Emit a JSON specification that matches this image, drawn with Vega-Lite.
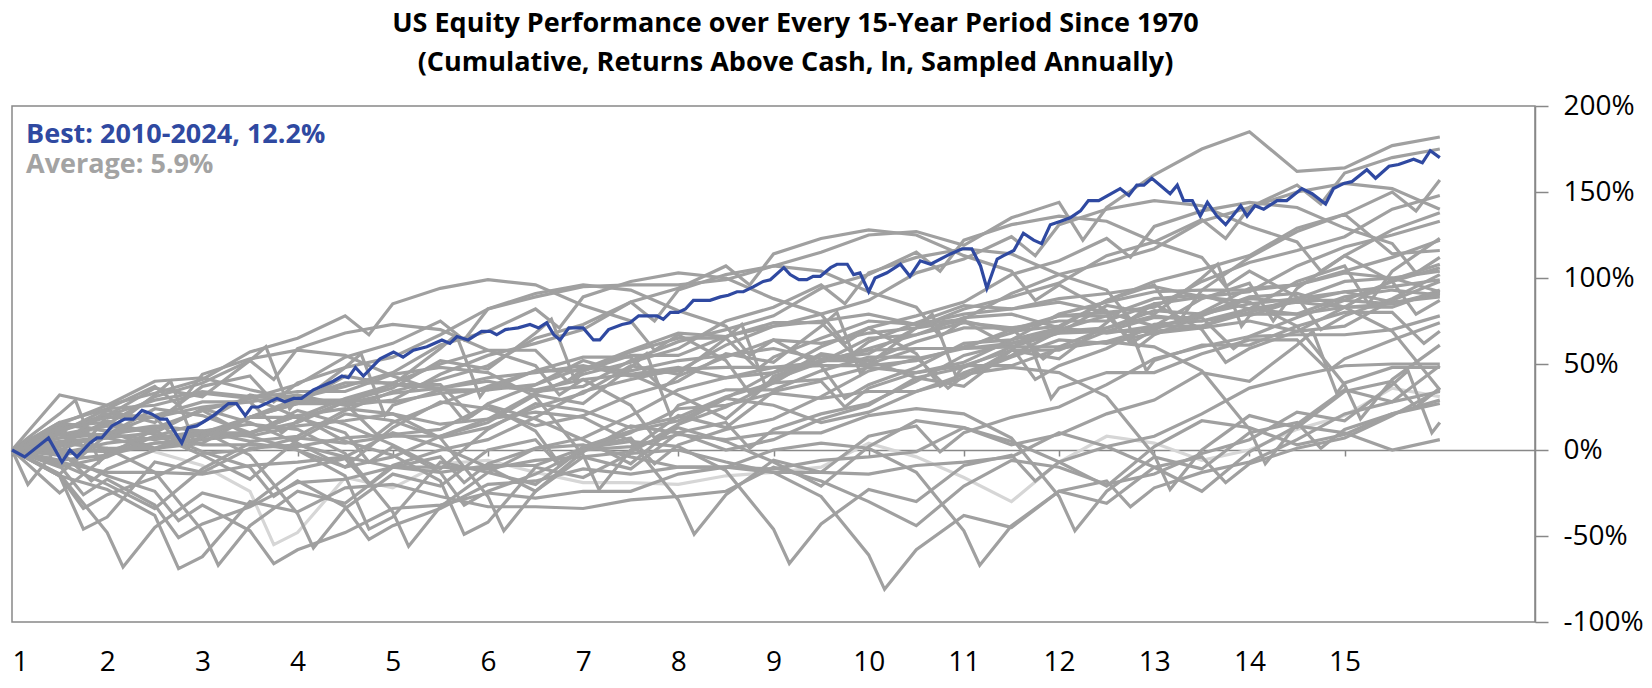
{
  "$schema": "https://vega.github.io/schema/vega-lite/v6.json",
  "width": 1523,
  "height": 516,
  "autosize": {"type": "none"},
  "padding": {"left": 12, "top": 106, "right": 117, "bottom": 66},
  "background": "white",
  "config": {"view": {"stroke": "#888888", "strokeWidth": 1.5}, "font": "Open Sans"},
  "title": {
    "text": ["US Equity Performance over Every 15-Year Period Since 1970", "(Cumulative, Returns Above Cash, ln, Sampled Annually)"],
    "font": "Open Sans", "fontSize": 27, "fontWeight": "bold", "color": "#000000",
    "anchor": "middle", "frame": "group", "dx": 22, "offset": 15, "lineHeight": 39
  },
  "datasets": {
    "periods": [
      {"m":0,"s70":0,"s71":0,"s72":0,"s73":0,"s74":0,"s75":0,"s76":0,"s77":0,"s78":0,"s79":0,"s80":0,"s81":0,"s82":0,"s83":0,"s84":0,"s85":0,"s86":0,"s87":0,"s88":0,"s89":0,"s90":0,"s91":0,"s92":0,"s93":0,"s94":0,"s95":0,"s96":0,"s97":0,"s98":0,"s99":0,"s00":0,"s01":0,"s02":0,"s03":0,"s04":0,"s05":0,"s06":0,"s07":0,"s08":0,"s09":0},
      {"m":6,"s70":-25,"s71":7,"s72":4,"s73":-15,"s74":-15,"s75":32,"s76":14,"s77":-7,"s78":0,"s79":5,"s80":3,"s81":-8,"s82":-14,"s83":15,"s84":-10,"s85":12,"s86":16,"s87":21,"s88":9,"s89":11,"s90":0,"s91":11,"s92":-2,"s93":3,"s94":-6,"s95":15,"s96":7,"s97":16,"s98":13,"s99":9,"s00":-3,"s01":-9,"s02":-15,"s03":10,"s04":2,"s05":-3,"s06":0,"s07":4,"s08":-14,"s09":3},
      {"m":12,"s70":-3,"s71":9,"s72":14,"s73":-23,"s74":-39,"s75":26,"s76":16,"s77":-13,"s78":-1,"s79":7,"s80":17,"s81":-20,"s82":9,"s83":11,"s84":-4,"s85":20,"s86":11,"s87":-1,"s88":9,"s89":19,"s90":-11,"s91":21,"s92":4,"s93":7,"s94":-3,"s95":26,"s96":15,"s97":24,"s98":20,"s99":14,"s00":-15,"s01":-17,"s02":-26,"s03":24,"s04":9,"s05":1,"s06":10,"s07":1,"s08":-48,"s09":23},
      {"m":18,"s70":4,"s71":13,"s72":-1,"s73":-38,"s74":-7,"s75":40,"s76":9,"s77":-13,"s78":4,"s79":10,"s80":9,"s81":-34,"s82":24,"s83":1,"s84":8,"s85":36,"s86":32,"s87":8,"s88":20,"s89":19,"s90":0,"s91":19,"s92":7,"s93":1,"s94":12,"s95":33,"s96":31,"s97":37,"s98":29,"s99":11,"s00":-24,"s01":-32,"s02":-16,"s03":26,"s04":6,"s05":1,"s06":14,"s07":-13,"s08":-45,"s09":16},
      {"m":24,"s70":6,"s71":23,"s72":-9,"s73":-62,"s74":-13,"s75":42,"s76":3,"s77":-14,"s78":6,"s79":24,"s80":-3,"s81":-11,"s82":20,"s83":7,"s84":16,"s85":31,"s86":10,"s87":8,"s88":28,"s89":8,"s90":10,"s91":25,"s92":11,"s93":4,"s94":23,"s95":41,"s96":39,"s97":44,"s98":34,"s99":-1,"s00":-32,"s01":-43,"s02":-2,"s03":33,"s04":10,"s05":11,"s06":11,"s07":-47,"s08":-25,"s09":37},
      {"m":30,"s70":10,"s71":8,"s72":-24,"s73":-30,"s74":1,"s75":35,"s76":3,"s77":-9,"s78":9,"s79":16,"s80":-17,"s81":4,"s82":10,"s83":19,"s84":32,"s85":52,"s86":19,"s87":19,"s88":28,"s89":19,"s90":8,"s91":28,"s92":5,"s93":19,"s94":30,"s95":57,"s96":52,"s97":53,"s98":31,"s99":-10,"s00":-47,"s01":-33,"s02":0,"s03":30,"s04":10,"s05":15,"s06":-3,"s07":-44,"s08":-32,"s09":43},
      {"m":36,"s70":20,"s71":0,"s72":-48,"s73":-36,"s74":3,"s75":29,"s76":2,"s77":-7,"s78":23,"s79":4,"s80":6,"s81":0,"s82":16,"s83":27,"s84":27,"s85":30,"s86":19,"s87":27,"s88":17,"s89":29,"s90":14,"s91":32,"s92":8,"s93":30,"s94":38,"s95":65,"s96":59,"s97":58,"s98":19,"s99":-18,"s00":-58,"s01":-19,"s02":7,"s03":34,"s04":20,"s05":12,"s06":-37,"s07":-24,"s08":-11,"s09":39},
      {"m":42,"s70":5,"s71":-15,"s72":-16,"s73":-22,"s74":-4,"s75":29,"s76":7,"s77":-4,"s78":15,"s79":-10,"s80":21,"s81":-10,"s82":28,"s83":43,"s84":48,"s85":39,"s86":30,"s87":27,"s88":28,"s89":27,"s90":17,"s91":26,"s92":23,"s93":37,"s94":54,"s95":78,"s96":68,"s97":55,"s98":10,"s99":-33,"s00":-48,"s01":-17,"s02":4,"s03":34,"s04":24,"s05":-2,"s06":-34,"s07":-31,"s08":-5,"s09":48},
      {"m":48,"s70":-3,"s71":-39,"s72":-22,"s73":-20,"s74":-10,"s75":28,"s76":9,"s77":10,"s78":3,"s79":13,"s80":17,"s81":-4,"s82":36,"s83":38,"s84":26,"s85":39,"s86":38,"s87":16,"s88":38,"s89":33,"s90":21,"s91":29,"s92":34,"s93":45,"s94":62,"s95":85,"s96":73,"s97":43,"s98":2,"s99":-44,"s00":-34,"s01":-10,"s02":8,"s03":44,"s04":21,"s05":-36,"s06":-14,"s07":-10,"s08":-9,"s09":54},
      {"m":54,"s70":-18,"s71":-7,"s72":-8,"s73":-27,"s74":-10,"s75":33,"s76":12,"s77":2,"s78":-11,"s79":28,"s80":7,"s81":8,"s82":52,"s83":59,"s84":35,"s85":50,"s86":38,"s87":27,"s88":36,"s89":36,"s90":15,"s91":44,"s92":41,"s93":61,"s94":75,"s95":94,"s96":70,"s97":34,"s98":-13,"s99":-34,"s00":-32,"s01":-13,"s02":8,"s03":48,"s04":7,"s05":-33,"s06":-21,"s07":-4,"s08":0,"s09":67},
      {"m":60,"s70":-42,"s71":-13,"s72":-6,"s73":-33,"s74":-11,"s75":35,"s76":26,"s77":-10,"s78":12,"s79":24,"s80":13,"s81":16,"s82":47,"s83":37,"s84":35,"s85":58,"s86":27,"s87":37,"s88":42,"s89":40,"s90":18,"s91":55,"s92":49,"s93":69,"s94":82,"s95":99,"s96":58,"s97":26,"s98":-24,"s99":-20,"s00":-25,"s01":-9,"s02":18,"s03":45,"s04":-27,"s05":-13,"s06":0,"s07":-8,"s08":6,"s09":82},
      {"m":66,"s70":-10,"s71":1,"s72":-13,"s73":-33,"s74":-6,"s75":38,"s76":18,"s77":-24,"s78":27,"s79":14,"s80":25,"s81":32,"s82":68,"s83":46,"s84":46,"s85":58,"s86":38,"s87":35,"s88":45,"s89":34,"s90":33,"s91":62,"s92":65,"s93":82,"s94":91,"s95":96,"s96":49,"s97":11,"s98":-14,"s99":-18,"s00":-28,"s01":-9,"s02":22,"s03":31,"s04":-24,"s05":-20,"s06":6,"s07":1,"s08":19,"s09":89},
      {"m":72,"s70":-16,"s71":3,"s72":-19,"s73":-34,"s74":-4,"s75":52,"s76":6,"s77":-1,"s78":23,"s79":20,"s80":33,"s81":27,"s82":46,"s83":46,"s84":54,"s85":47,"s86":48,"s87":41,"s88":49,"s89":37,"s90":44,"s91":70,"s92":73,"s93":89,"s94":96,"s95":84,"s96":41,"s97":0,"s98":0,"s99":-11,"s00":-24,"s01":1,"s02":19,"s03":-3,"s04":-4,"s05":1,"s06":2,"s07":7,"s08":34,"s09":95},
      {"m":78,"s70":-2,"s71":-4,"s72":-19,"s73":-29,"s74":-1,"s75":44,"s76":-8,"s77":14,"s78":13,"s79":32,"s80":49,"s81":48,"s82":55,"s83":57,"s84":54,"s85":58,"s86":46,"s87":44,"s88":43,"s89":52,"s90":51,"s91":86,"s92":86,"s93":98,"s94":93,"s95":75,"s96":26,"s97":10,"s98":2,"s99":-14,"s00":-24,"s01":5,"s02":5,"s03":0,"s04":-11,"s05":7,"s06":11,"s07":20,"s08":41,"s09":96},
      {"m":84,"s70":0,"s71":-10,"s72":-20,"s73":-27,"s74":13,"s75":32,"s76":15,"s77":10,"s78":19,"s79":40,"s80":44,"s81":26,"s82":55,"s83":65,"s84":43,"s85":68,"s86":52,"s87":48,"s88":46,"s89":63,"s90":59,"s91":94,"s92":93,"s93":103,"s94":81,"s95":67,"s96":15,"s97":24,"s98":9,"s99":-10,"s00":-14,"s01":2,"s02":-29,"s03":20,"s04":10,"s05":3,"s06":17,"s07":35,"s08":47,"s09":96},
      {"m":90,"s70":-7,"s71":-10,"s72":-15,"s73":-24,"s74":5,"s75":18,"s76":30,"s77":0,"s78":31,"s79":56,"s80":65,"s81":35,"s82":66,"s83":65,"s84":54,"s85":66,"s86":55,"s87":42,"s88":61,"s89":70,"s90":75,"s91":107,"s92":102,"s93":100,"s94":72,"s95":52,"s96":25,"s97":26,"s98":6,"s99":-10,"s00":-10,"s01":-12,"s02":-26,"s03":13,"s04":16,"s05":12,"s06":30,"s07":42,"s08":48,"s09":99},
      {"m":96,"s70":-13,"s71":-11,"s72":-13,"s73":-10,"s74":-7,"s75":41,"s76":26,"s77":6,"s78":39,"s79":51,"s80":43,"s81":35,"s82":74,"s83":54,"s84":64,"s85":72,"s86":59,"s87":45,"s88":72,"s89":78,"s90":83,"s91":114,"s92":107,"s93":88,"s94":64,"s95":41,"s96":39,"s97":33,"s98":10,"s99":0,"s00":-13,"s01":-46,"s02":-6,"s03":34,"s04":12,"s05":18,"s06":45,"s07":48,"s08":48,"s09":107},
      {"m":102,"s70":-13,"s71":-6,"s72":-10,"s73":-18,"s74":-21,"s75":56,"s76":16,"s77":18,"s78":55,"s79":72,"s80":52,"s81":46,"s82":74,"s83":65,"s84":62,"s85":75,"s86":53,"s87":60,"s88":79,"s89":94,"s90":96,"s91":123,"s92":104,"s93":79,"s94":49,"s95":51,"s96":41,"s97":30,"s98":10,"s99":4,"s00":-27,"s01":-43,"s02":-13,"s03":40,"s04":21,"s05":31,"s06":52,"s07":49,"s08":51,"s09":115},
      {"m":108,"s70":-14,"s71":-4,"s72":4,"s73":-30,"s74":2,"s75":52,"s76":22,"s77":26,"s78":50,"s79":50,"s80":52,"s81":54,"s82":63,"s83":75,"s84":68,"s85":79,"s86":56,"s87":71,"s88":87,"s89":102,"s90":103,"s91":128,"s92":92,"s93":71,"s94":38,"s95":65,"s96":48,"s97":34,"s98":20,"s99":1,"s00":-61,"s01":-23,"s02":8,"s03":36,"s04":27,"s05":46,"s06":58,"s07":49,"s08":59,"s09":125},
      {"m":114,"s70":-9,"s71":-1,"s72":-4,"s73":-44,"s74":17,"s75":42,"s76":34,"s77":42,"s78":71,"s79":59,"s80":63,"s81":54,"s82":74,"s83":73,"s84":71,"s85":73,"s86":71,"s87":78,"s88":103,"s89":115,"s90":112,"s91":125,"s92":83,"s93":56,"s94":48,"s95":67,"s96":45,"s97":34,"s98":24,"s99":-13,"s00":-58,"s01":-30,"s02":14,"s03":45,"s04":40,"s05":53,"s06":59,"s07":52,"s08":67,"s09":127},
      {"m":120,"s70":-7,"s71":13,"s72":-16,"s73":-21,"s74":13,"s75":48,"s76":42,"s77":37,"s78":49,"s79":59,"s80":71,"s81":43,"s82":84,"s83":79,"s84":75,"s85":76,"s86":82,"s87":86,"s88":111,"s89":122,"s90":117,"s91":113,"s92":75,"s93":45,"s94":62,"s95":74,"s96":49,"s97":44,"s98":21,"s99":-47,"s00":-38,"s01":-9,"s02":10,"s03":51,"s04":55,"s05":59,"s06":59,"s07":60,"s08":77,"s09":119},
      {"m":126,"s70":-4,"s71":5,"s72":-30,"s73":-6,"s74":3,"s75":60,"s76":58,"s77":58,"s78":58,"s79":70,"s80":71,"s81":54,"s82":82,"s83":82,"s84":69,"s85":91,"s86":89,"s87":102,"s88":124,"s89":131,"s90":114,"s91":104,"s92":60,"s93":55,"s94":64,"s95":71,"s96":49,"s97":48,"s98":7,"s99":-44,"s00":-45,"s01":-3,"s02":19,"s03":64,"s04":62,"s05":60,"s06":62,"s07":68,"s08":79,"s09":135},
      {"m":132,"s70":10,"s71":-7,"s72":-7,"s73":-10,"s74":9,"s75":68,"s76":53,"s77":36,"s78":58,"s79":78,"s80":60,"s81":64,"s82":88,"s83":86,"s84":72,"s85":102,"s86":97,"s87":110,"s88":131,"s89":136,"s90":102,"s91":96,"s92":49,"s93":69,"s94":71,"s95":75,"s96":59,"s97":45,"s98":-27,"s99":-24,"s00":-24,"s01":-7,"s02":25,"s03":79,"s04":68,"s05":60,"s06":70,"s07":78,"s08":71,"s09":144},
      {"m":138,"s70":2,"s71":-21,"s72":8,"s73":-20,"s74":21,"s75":84,"s76":74,"s77":45,"s78":69,"s79":78,"s80":71,"s81":62,"s82":91,"s83":80,"s84":87,"s85":109,"s86":113,"s87":123,"s88":140,"s89":133,"s90":93,"s91":81,"s92":59,"s93":71,"s94":68,"s95":75,"s96":63,"s97":31,"s98":-24,"s99":-31,"s00":-18,"s01":2,"s02":38,"s03":86,"s04":69,"s05":63,"s06":78,"s07":80,"s08":87,"s09":141},
      {"m":144,"s70":-10,"s71":2,"s72":4,"s73":-14,"s74":29,"s75":79,"s76":52,"s77":45,"s78":77,"s79":67,"s80":81,"s81":68,"s82":95,"s83":83,"s84":98,"s85":117,"s86":121,"s87":130,"s88":145,"s89":121,"s90":85,"s91":70,"s92":73,"s93":78,"s94":72,"s95":85,"s96":60,"s97":-3,"s98":-4,"s99":-10,"s00":-22,"s01":8,"s02":53,"s03":92,"s04":69,"s05":71,"s06":88,"s07":72,"s08":96,"s09":160},
      {"m":150,"s70":-24,"s71":17,"s72":-6,"s73":-2,"s74":45,"s75":100,"s76":61,"s77":56,"s78":77,"s79":78,"s80":79,"s81":71,"s82":89,"s83":98,"s84":105,"s85":133,"s86":134,"s87":139,"s88":142,"s89":112,"s90":70,"s91":80,"s92":75,"s93":75,"s94":72,"s95":89,"s96":46,"s97":0,"s98":-11,"s99":-4,"s00":-13,"s01":21,"s02":60,"s03":93,"s04":72,"s05":79,"s06":90,"s07":88,"s08":93,"s09":175},
      {"m":156,"s70":-1,"s71":13,"s72":0,"s73":6,"s74":40,"s75":78,"s76":61,"s77":64,"s78":66,"s79":88,"s80":85,"s81":75,"s82":92,"s83":109,"s84":113,"s85":141,"s86":141,"s87":144,"s88":130,"s89":104,"s90":59,"s91":94,"s92":82,"s93":79,"s94":82,"s95":86,"s96":12,"s97":20,"s98":10,"s99":-8,"s00":-7,"s01":36,"s02":66,"s03":93,"s04":80,"s05":89,"s06":82,"s07":97,"s08":112,"s09":185},
      {"m":162,"s70":14,"s71":3,"s72":12,"s73":22,"s74":61,"s75":87,"s76":72,"s77":64,"s78":77,"s79":86,"s80":88,"s81":69,"s82":107,"s83":116,"s84":129,"s85":154,"s86":150,"s87":141,"s88":121,"s89":89,"s90":69,"s91":96,"s92":79,"s93":79,"s94":86,"s95":72,"s96":15,"s97":13,"s98":16,"s99":1,"s00":6,"s01":43,"s02":67,"s03":96,"s04":88,"s05":91,"s06":98,"s07":94,"s08":127,"s09":162},
      {"m":168,"s70":10,"s71":9,"s72":20,"s73":17,"s74":39,"s75":87,"s76":80,"s77":53,"s78":87,"s79":92,"s80":92,"s81":72,"s82":118,"s83":124,"s84":137,"s85":161,"s86":155,"s87":129,"s88":113,"s89":78,"s90":83,"s91":103,"s92":83,"s93":89,"s94":83,"s95":38,"s96":35,"s97":34,"s98":12,"s99":7,"s00":21,"s01":49,"s02":67,"s03":104,"s04":98,"s05":83,"s06":107,"s07":113,"s08":137,"s09":164},
      {"m":174,"s70":0,"s71":21,"s72":36,"s73":38,"s74":48,"s75":98,"s76":80,"s77":64,"s78":85,"s79":95,"s80":86,"s81":87,"s82":125,"s83":140,"s84":150,"s85":170,"s86":152,"s87":120,"s88":98,"s89":88,"s90":85,"s91":100,"s92":83,"s93":93,"s94":69,"s95":41,"s96":28,"s97":40,"s98":21,"s99":20,"s00":28,"s01":50,"s02":70,"s03":112,"s04":100,"s05":99,"s06":104,"s07":128,"s08":114,"s09":177},
      {"m":180,"s70":6,"s71":29,"s72":31,"s73":16,"s74":48,"s75":106,"s76":69,"s77":74,"s78":91,"s79":99,"s80":89,"s81":98,"s82":133,"s83":148,"s84":157,"s85":175,"s86":140,"s87":112,"s88":87,"s89":102,"s90":92,"s91":104,"s92":93,"s93":90,"s94":35,"s95":61,"s96":49,"s97":36,"s98":27,"s99":35,"s00":34,"s01":50,"s02":78,"s03":122,"s04":92,"s05":108,"s06":123,"s07":138,"s08":116,"s09":182},
      {"m":2,"s09":-20},
      {"m":8,"s87":29},
      {"m":9,"s74":-46,"s98":2,"s01":-26,"s02":-34},
      {"m":10,"s90":-18},
      {"m":11,"s87":-7},
      {"m":14,"s08":-68},
      {"m":20,"s86":40},
      {"m":21,"s73":-69,"s97":26,"s00":-41,"s01":-51},
      {"m":22,"s89":1},
      {"m":23,"s86":4},
      {"m":26,"s07":-67},
      {"m":32,"s85":60},
      {"m":33,"s72":-55,"s96":41,"s99":-27,"s00":-66,"s09":28},
      {"m":34,"s88":10},
      {"m":35,"s85":24},
      {"m":38,"s06":-57},
      {"m":44,"s84":56},
      {"m":45,"s71":-46,"s95":67,"s98":-7,"s99":-52,"s08":-20},
      {"m":46,"s87":9},
      {"m":47,"s84":20},
      {"m":50,"s05":-56},
      {"m":56,"s83":67},
      {"m":57,"s70":-49,"s94":64,"s97":17,"s98":-32,"s07":-19},
      {"m":58,"s86":20},
      {"m":59,"s83":31},
      {"m":62,"s04":-47},
      {"m":68,"s82":76},
      {"m":69,"s93":71,"s96":32,"s97":-8,"s06":-9},
      {"m":70,"s85":40},
      {"m":71,"s82":40},
      {"m":74,"s03":-23},
      {"m":80,"s81":56},
      {"m":81,"s92":75,"s95":58,"s96":7,"s05":-8},
      {"m":82,"s84":36},
      {"m":83,"s81":20},
      {"m":86,"s02":-49},
      {"m":92,"s80":73},
      {"m":93,"s91":96,"s94":55,"s95":33,"s04":1},
      {"m":94,"s83":47},
      {"m":95,"s80":37},
      {"m":98,"s01":-66},
      {"m":104,"s79":80},
      {"m":105,"s90":85,"s93":62,"s94":30,"s03":25},
      {"m":106,"s82":56},
      {"m":107,"s79":44},
      {"m":110,"s00":-81},
      {"m":116,"s78":79},
      {"m":117,"s89":104,"s92":66,"s93":37,"s02":-1},
      {"m":118,"s81":36},
      {"m":119,"s78":43},
      {"m":122,"s99":-67},
      {"m":128,"s77":66},
      {"m":129,"s88":113,"s91":87,"s92":41,"s01":-18},
      {"m":130,"s80":53},
      {"m":131,"s77":30},
      {"m":134,"s98":-47},
      {"m":135,"s09":122},
      {"m":140,"s76":82},
      {"m":141,"s87":112,"s90":76,"s91":62,"s00":-33},
      {"m":142,"s79":60},
      {"m":143,"s76":46},
      {"m":146,"s97":-23},
      {"m":147,"s08":74},
      {"m":152,"s75":108},
      {"m":153,"s86":123,"s89":95,"s90":51,"s99":-19},
      {"m":154,"s78":59},
      {"m":155,"s75":72},
      {"m":158,"s96":-8},
      {"m":159,"s07":75},
      {"m":164,"s74":69},
      {"m":165,"s85":143,"s88":104,"s89":70,"s98":1},
      {"m":166,"s77":46},
      {"m":167,"s74":33},
      {"m":170,"s95":18},
      {"m":171,"s06":85},
      {"m":176,"s73":46},
      {"m":177,"s84":139,"s87":103,"s88":79,"s97":25},
      {"m":178,"s76":62},
      {"m":179,"s73":10}
    ],
    "best": [
      {"m":0,"v":0},{"m":1.6,"v":-4},{"m":4.6,"v":7},{"m":6.3,"v":-7},{"m":7.3,"v":0},{"m":8.2,"v":-4},{"m":9.8,"v":4},{"m":10.7,"v":7},{"m":11.3,"v":7},{"m":12.6,"v":14},
      {"m":14.2,"v":18},{"m":15.3,"v":18},{"m":16.4,"v":23},{"m":17.6,"v":21},{"m":18.7,"v":18},{"m":19.5,"v":18},{"m":21.4,"v":4},{"m":22.2,"v":13},{"m":23.3,"v":14},{"m":25.4,"v":20},
      {"m":27.3,"v":27},{"m":28.3,"v":27},{"m":29.4,"v":20},{"m":30.2,"v":25},{"m":31.1,"v":25},{"m":33.4,"v":30},{"m":34.4,"v":28},{"m":35.5,"v":30},{"m":36.5,"v":30},{"m":38,"v":35},
      {"m":40.5,"v":40},{"m":41.6,"v":43},{"m":42.4,"v":42},{"m":43.3,"v":48},{"m":44.3,"v":43},{"m":46.4,"v":53},{"m":48.1,"v":57},{"m":49.3,"v":54},{"m":50.6,"v":58},{"m":52.3,"v":60},
      {"m":54.2,"v":64},{"m":55.2,"v":62},{"m":56.1,"v":66},{"m":57.5,"v":64},{"m":59.2,"v":69},{"m":60.3,"v":69},{"m":61.1,"v":67},{"m":62.2,"v":70},{"m":63.8,"v":71},{"m":65.3,"v":73},
      {"m":66.4,"v":71},{"m":67.4,"v":74},{"m":68.3,"v":67},{"m":69.1,"v":64},{"m":70.2,"v":71},{"m":72,"v":71},{"m":73.3,"v":64},{"m":74.1,"v":64},{"m":75.2,"v":70},{"m":76.9,"v":73},
      {"m":77.9,"v":74},{"m":79,"v":78},{"m":81.3,"v":78},{"m":82.1,"v":76},{"m":83,"v":80},{"m":84,"v":80},{"m":84.9,"v":82},{"m":85.9,"v":87},{"m":88,"v":87},{"m":89.3,"v":89},
      {"m":90.3,"v":90},{"m":91.4,"v":92},{"m":92.2,"v":92},{"m":93.5,"v":95},{"m":94.7,"v":98},{"m":95.6,"v":99},{"m":97.3,"v":106},{"m":98.1,"v":102},{"m":99.2,"v":99},{"m":100.2,"v":99},
      {"m":101,"v":101},{"m":101.9,"v":101},{"m":103.2,"v":106},{"m":104,"v":108},{"m":105.3,"v":108},{"m":106.1,"v":102},{"m":106.9,"v":103},{"m":108,"v":92},{"m":108.8,"v":100},{"m":110.3,"v":103},
      {"m":112,"v":108},{"m":113.2,"v":101},{"m":114.5,"v":110},{"m":115.8,"v":108},{"m":118.3,"v":114},{"m":119.8,"v":117},{"m":121,"v":117},{"m":122.1,"v":107},{"m":122.9,"v":94},{"m":124.2,"v":111},
      {"m":125,"v":113},{"m":126.3,"v":116},{"m":127.5,"v":126},{"m":128.8,"v":122},{"m":129.8,"v":120},{"m":130.9,"v":131},{"m":132.2,"v":133},{"m":133.4,"v":135},{"m":134.7,"v":139},{"m":135.7,"v":145},
      {"m":137,"v":145},{"m":139.7,"v":152},{"m":140.8,"v":148},{"m":141.8,"v":154},{"m":142.7,"v":154},{"m":143.7,"v":158},{"m":146,"v":149},{"m":146.9,"v":154},{"m":147.7,"v":145},{"m":148.8,"v":145},
      {"m":149.8,"v":136},{"m":150.7,"v":144},{"m":151.9,"v":136},{"m":153,"v":131},{"m":154.9,"v":142},{"m":155.7,"v":136},{"m":156.7,"v":142},{"m":157.8,"v":140},{"m":159.5,"v":145},{"m":160.7,"v":145},
      {"m":162.6,"v":152},{"m":163.9,"v":149},{"m":165.6,"v":143},{"m":166.6,"v":152},{"m":167.9,"v":155},{"m":168.9,"v":156},{"m":170.8,"v":163},{"m":171.9,"v":158},{"m":173.6,"v":165},{"m":174.8,"v":166},
      {"m":176.7,"v":169},{"m":177.8,"v":167},{"m":178.8,"v":174},{"m":180,"v":170}
    ],
    "notes": [
      {"label": "Best: 2010-2024, 12.2%"},
      {"label": "Average: 5.9%"}
    ]
  },
  "resolve": {"axis": {"x": "independent", "y": "independent"}},
  "layer": [
    {
      "data": {"name": "periods"},
      "transform": [
        {"fold": ["s70","s71","s72","s73","s74","s75","s76","s77","s78","s79","s80","s81","s82","s83","s84","s85","s86","s87","s88","s89","s90","s91","s92","s93","s94","s95","s96","s97","s98","s99","s00","s01","s02","s03","s04","s05","s06","s07","s08","s09"], "as": ["period", "v"]},
        {"filter": "datum.period === 's72' && isValid(datum.v)"}
      ],
      "mark": {"type": "line", "color": "#d6d6d6", "strokeWidth": 3.2},
      "encoding": {
        "x": {"field": "m", "type": "quantitative", "scale": {"domain": [0, 192], "nice": false, "zero": false},
          "axis": {"orient": "bottom", "values": [0,12,24,36,48,60,72,84,96,108,120,132,144,156,168], "labelExpr": "'' + (datum.value / 12 + 1)", "domain": false, "ticks": false, "grid": false, "title": null, "labelFontSize": 28, "labelFont": "Open Sans", "labelColor": "#000000", "labelPadding": 40, "labelBaseline": "middle"}},
        "y": {"field": "v", "type": "quantitative", "scale": {"domain": [-100, 200], "nice": false, "zero": false},
          "axis": {"orient": "right", "offset": 0, "values": [-100,-50,0,50,100,150,200], "labelExpr": "datum.value + '%'", "domain": true, "domainColor": "#888888", "domainWidth": 1.5, "ticks": true, "tickSize": 13, "tickColor": "#888888", "tickWidth": 1.5, "grid": false, "title": null, "labelFontSize": 28, "labelFont": "Open Sans", "labelColor": "#000000", "labelPadding": 15, "labelBound": false, "labelFlush": false, "labelAlign": "left", "labelBaseline": "middle"}},
        "detail": {"field": "period"}
      }
    },
    {
      "data": {"name": "periods"},
      "transform": [
        {"fold": ["s70","s71","s72","s73","s74","s75","s76","s77","s78","s79","s80","s81","s82","s83","s84","s85","s86","s87","s88","s89","s90","s91","s92","s93","s94","s95","s96","s97","s98","s99","s00","s01","s02","s03","s04","s05","s06","s07","s08","s09"], "as": ["period", "v"]},
        {"filter": "datum.period !== 's72' && isValid(datum.v)"}
      ],
      "mark": {"type": "line", "color": "#a0a0a0", "strokeWidth": 3.2},
      "encoding": {
        "x": {"field": "m", "type": "quantitative",
          "axis": {"orient": "bottom", "offset": -172, "values": [0,12,24,36,48,60,72,84,96,108,120,132,144,156,168], "labels": false, "domain": true, "domainColor": "#888888", "domainWidth": 1.5, "ticks": true, "tickSize": 6, "tickColor": "#888888", "tickWidth": 1.5, "grid": false, "title": null}},
        "y": {"field": "v", "type": "quantitative", "axis": null},
        "detail": {"field": "period"}
      }
    },
    {
      "data": {"name": "best"},
      "mark": {"type": "line", "color": "#2f49a1", "strokeWidth": 3.2},
      "encoding": {
        "x": {"field": "m", "type": "quantitative", "axis": null},
        "y": {"field": "v", "type": "quantitative", "axis": null}
      }
    },
    {
      "data": {"name": "notes"},
      "transform": [{"filter": "indexof(datum.label, 'Best') === 0"}],
      "mark": {"type": "text", "align": "left", "baseline": "alphabetic", "font": "Open Sans", "fontSize": 27, "fontWeight": "bold", "color": "#2f49a1"},
      "encoding": {
        "x": {"datum": 1.77, "type": "quantitative", "axis": null},
        "y": {"datum": 178.3, "type": "quantitative", "axis": null},
        "text": {"field": "label"}
      }
    },
    {
      "data": {"name": "notes"},
      "transform": [{"filter": "indexof(datum.label, 'Average') === 0"}],
      "mark": {"type": "text", "align": "left", "baseline": "alphabetic", "font": "Open Sans", "fontSize": 27, "fontWeight": "bold", "color": "#a3a3a3"},
      "encoding": {
        "x": {"datum": 1.77, "type": "quantitative", "axis": null},
        "y": {"datum": 161.2, "type": "quantitative", "axis": null},
        "text": {"field": "label"}
      }
    }
  ]
}
